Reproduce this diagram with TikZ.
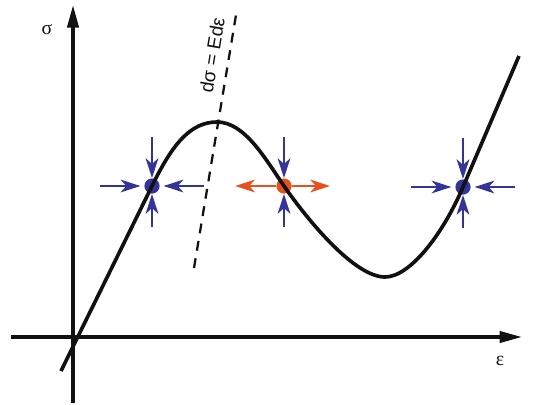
\documentclass[tikz,border=0pt]{standalone}
\usepackage{fontspec}
\setmainfont{Liberation Serif}
\newfontfamily\labelfont{Liberation Sans}
\usetikzlibrary{positioning, calc, arrows.meta}
\definecolor{Ink}{HTML}{111111}
\definecolor{Stable}{HTML}{333399}
\definecolor{Unstable}{HTML}{E8501E}
\tikzset{
    axis/.style={-{Triangle[length=16pt, width=8pt]}, line width=2.4pt, color=Ink},
    curveline/.style={line width=2.6pt, color=Ink},
    tangentline/.style={line width=1.6pt, dash pattern=on 7pt off 5.5pt, color=Ink},
    stabdot/.style={circle, fill=Stable, inner sep=0pt, minimum size=0.38cm},
    unstabdot/.style={circle, fill=Unstable, inner sep=0pt, minimum size=0.38cm},
    pushin/.style={-{Stealth[length=14pt, width=9pt, inset=4pt]}, line width=1.8pt, color=Stable},
    pushout/.style={-{Stealth[length=14pt, width=9pt, inset=4pt]}, line width=1.8pt, color=Unstable},
}
\begin{document}
\begin{tikzpicture}[x=0.025cm, y=-0.025cm]
                \useasboundingbox (0,0) rectangle (541,404);

                % --- Assi ---
                \coordinate (ybot) at (73,403);
                \coordinate (ytop) at (73,5);
                \coordinate (xleft) at (11,337);
                \coordinate (xright) at (522,337);
                \draw[axis] (ybot) -- (ytop);
                \draw[axis] (xleft) -- (xright);
                \node[font=\fontsize{14}{14}\selectfont, text=Ink] (sig) at (47,30) {σ};
                \node[font=\fontsize{14}{14}\selectfont, text=Ink] (eps) at (500,361) {ε};

                % --- Tangente ---
                \coordinate (tbot) at (194,268);
                \coordinate (ttop) at (236,15);
                \draw[tangentline] (tbot) -- node[pos=0.83, sloped, above=3pt, font=\labelfont\fontsize{13.5}{13.5}\selectfont, text=Ink] (tlabel) {dσ = Edε} (ttop);

                % --- Punti di equilibrio ---
                \node[stabdot] (s1) at (152,186) {};
                \node[unstabdot] (u2) at (284,186) {};
                \node[stabdot] (s3) at (463,187) {};

                % Frecce verso i punti stabili
                \foreach \p in {s1, s3} {
                    \draw[pushin] ([xshift=-1.3cm]\p.center) -- ([xshift=-0.29cm]\p.center);
                    \draw[pushin] ([xshift=1.3cm]\p.center) -- ([xshift=0.29cm]\p.center);
                    \draw[pushin] ([yshift=1.22cm]\p.center) -- ([yshift=0.2cm]\p.center);
                    \draw[pushin] ([yshift=-1.02cm]\p.center) -- ([yshift=-0.2cm]\p.center);
                }

                % Punto instabile
                \draw[pushout] ([xshift=-0.2cm]u2.center) -- ([xshift=-1.22cm]u2.center);
                \draw[pushout] ([xshift=0.2cm]u2.center) -- ([xshift=1.15cm]u2.center);
                \draw[pushin] ([yshift=1.22cm]u2.center) -- ([yshift=0.2cm]u2.center);
                \draw[pushin] ([yshift=-1.02cm]u2.center) -- ([yshift=-0.2cm]u2.center);

                % --- Curva sigma-epsilon ---
                \coordinate (c0) at (61,371);
                \coordinate (peak) at (217,122);
                \coordinate (valley) at (385,277);
                \coordinate (c9) at (519,56);
                \draw[curveline] (c0) -- (s1.center)
                    .. controls (172,145) and (190,122) .. (peak)
                    .. controls (245,122) and (266,160) .. (u2.center)
                    .. controls (309,222) and (355,277) .. (valley)
                    .. controls (410,277) and (443,234) .. (s3.center)
                    -- (c9);

            \end{tikzpicture}
\end{document}
